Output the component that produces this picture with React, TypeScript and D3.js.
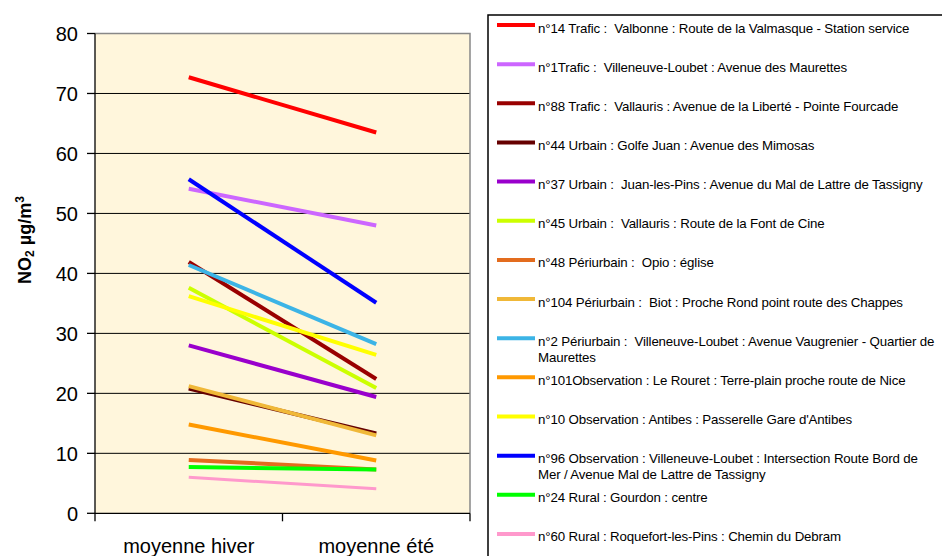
import React from "react";
import * as d3 from "d3";

// Seasonal NO2 averages per measurement site (µg/m³)
const seasons = ["moyenne hiver", "moyenne été"];

const siteLabels: string[][] = [
  ["n°14 Trafic :  Valbonne : Route de la Valmasque - Station service"],
  ["n°1Trafic :  Villeneuve-Loubet : Avenue des Maurettes"],
  ["n°88 Trafic :  Vallauris : Avenue de la Liberté - Pointe Fourcade"],
  ["n°44 Urbain : Golfe Juan : Avenue des Mimosas"],
  ["n°37 Urbain :  Juan-les-Pins : Avenue du Mal de Lattre de Tassigny"],
  ["n°45 Urbain :  Vallauris : Route de la Font de Cine"],
  ["n°48 Périurbain :  Opio : église"],
  ["n°104 Périurbain :  Biot : Proche Rond point route des Chappes"],
  ["n°2 Périurbain :  Villeneuve-Loubet : Avenue Vaugrenier - Quartier de", "Maurettes"],
  ["n°101Observation : Le Rouret : Terre-plain proche route de Nice"],
  ["n°10 Observation : Antibes : Passerelle Gare d'Antibes"],
  ["n°96 Observation : Villeneuve-Loubet : Intersection Route Bord de", "Mer / Avenue Mal de Lattre de Tassigny"],
  ["n°24 Rural : Gourdon : centre"],
  ["n°60 Rural : Roquefort-les-Pins : Chemin du Debram"],
];

const winterValues = [72.7, 54.1, 41.9, 20.8, 28.0, 37.6, 8.9, 21.2, 41.4, 14.8, 36.2, 55.7, 7.7, 6.0];
const summerValues = [63.5, 48.0, 22.4, 13.3, 19.4, 20.9, 7.3, 13.0, 28.2, 8.8, 26.4, 35.1, 7.3, 4.1];

const siteColors = [
  "#ff0000", "#cc66ff", "#990000", "#660000", "#9900cc", "#ccff00", "#e36c1e",
  "#f0b838", "#3cb4e6", "#ff9900", "#ffff00", "#0000ff", "#00ff00", "#ff99cc",
];

const yTicks = [0, 10, 20, 30, 40, 50, 60, 70, 80];

export default function App() {
  const width = 942;
  const height = 556;
  const plot = { left: 95, right: 470, top: 33.5, bottom: 513.3 };

  const x = d3.scaleBand<string>().domain(seasons).range([plot.left, plot.right]);
  const xc = (s: string) => (x(s) ?? 0) + x.bandwidth() / 2;
  const y = d3.scaleLinear().domain([0, 80]).range([plot.bottom, plot.top]);

  const line = d3
    .line<[string, number]>()
    .x((d) => xc(d[0]))
    .y((d) => y(d[1]));

  const legendX = 488;
  const legendTop = 15;
  const rowStep = 39.15;
  const firstRow = 25;

  const font = "Liberation Sans, Arial, sans-serif";

  return (
    <svg
      width={width}
      height={height}
      style={{ position: "absolute", left: 0, top: 0, background: "#fff" }}
      fontFamily={font}
    >
      {/* plot background */}
      <rect
        x={plot.left}
        y={plot.top}
        width={plot.right - plot.left}
        height={plot.bottom - plot.top}
        fill="#fff6dc"
      />
      {/* gridlines */}
      {yTicks
        .filter((t) => t > 0 && t < 80)
        .map((t) => (
          <line key={t} x1={plot.left} x2={plot.right} y1={y(t)} y2={y(t)} stroke="#000" strokeWidth={1} />
        ))}
      {/* frame top and right */}
      <path
        d={`M${plot.left},${plot.top}H${plot.right}V${plot.bottom}`}
        fill="none"
        stroke="#888"
        strokeWidth={1.5}
      />
      {/* y axis */}
      <line x1={plot.left} x2={plot.left} y1={plot.top} y2={plot.bottom} stroke="#000" strokeWidth={1.3} />
      {yTicks.map((t) => (
        <g key={t}>
          <line x1={plot.left - 8} x2={plot.left} y1={y(t)} y2={y(t)} stroke="#000" strokeWidth={1.3} />
          <text x={78} y={y(t)} dy="0.36em" textAnchor="end" fontSize={20} fill="#000">
            {t}
          </text>
        </g>
      ))}
      {/* x axis */}
      <line x1={plot.left} x2={plot.right} y1={plot.bottom} y2={plot.bottom} stroke="#000" strokeWidth={1.3} />
      {[plot.left, plot.left + x.bandwidth(), plot.right].map((px, i) => (
        <line key={i} x1={px} x2={px} y1={plot.bottom} y2={plot.bottom + 8} stroke="#000" strokeWidth={1.3} />
      ))}
      {seasons.map((s) => (
        <text key={s} x={xc(s)} y={553} textAnchor="middle" fontSize={20} fill="#000">
          {s}
        </text>
      ))}
      {/* y title */}
      <text
        transform={`translate(31,${240}) rotate(-90)`}
        textAnchor="middle"
        fontSize={18}
        fontWeight="bold"
        fill="#000"
      >
        NO
        <tspan fontSize={12} dy={3}>2</tspan>
        <tspan dy={-3}> µg/m</tspan>
        <tspan fontSize={12} dy={-7}>3</tspan>
      </text>

      {/* series lines */}
      {siteLabels.map((_, i) => (
        <path
          key={i}
          d={line([
            [seasons[0], winterValues[i]],
            [seasons[1], summerValues[i]],
          ]) ?? ""}
          fill="none"
          stroke={siteColors[i]}
          strokeWidth={i === siteLabels.length - 1 ? 3 : 4}
        />
      ))}

      {/* legend */}
      <path
        d={`M${legendX},${height}V${legendTop}H${width}`}
        fill="none"
        stroke="#000"
        strokeWidth={1.5}
      />
      {siteLabels.map((lines, i) => {
        const yy = firstRow + i * rowStep;
        return (
          <g key={i}>
            <line x1={497} x2={535} y1={yy} y2={yy} stroke={siteColors[i]} strokeWidth={4} />
            <text
              x={538}
              y={yy + 7.5}
              fontSize={13.3}
              fill="#000"
              letterSpacing={-0.15}
              style={{ whiteSpace: "pre" }}
            >
              {lines.map((l, j) => (
                <tspan key={j} x={538} dy={j === 0 ? 0 : 16}>
                  {l}
                </tspan>
              ))}
            </text>
          </g>
        );
      })}
    </svg>
  );
}
